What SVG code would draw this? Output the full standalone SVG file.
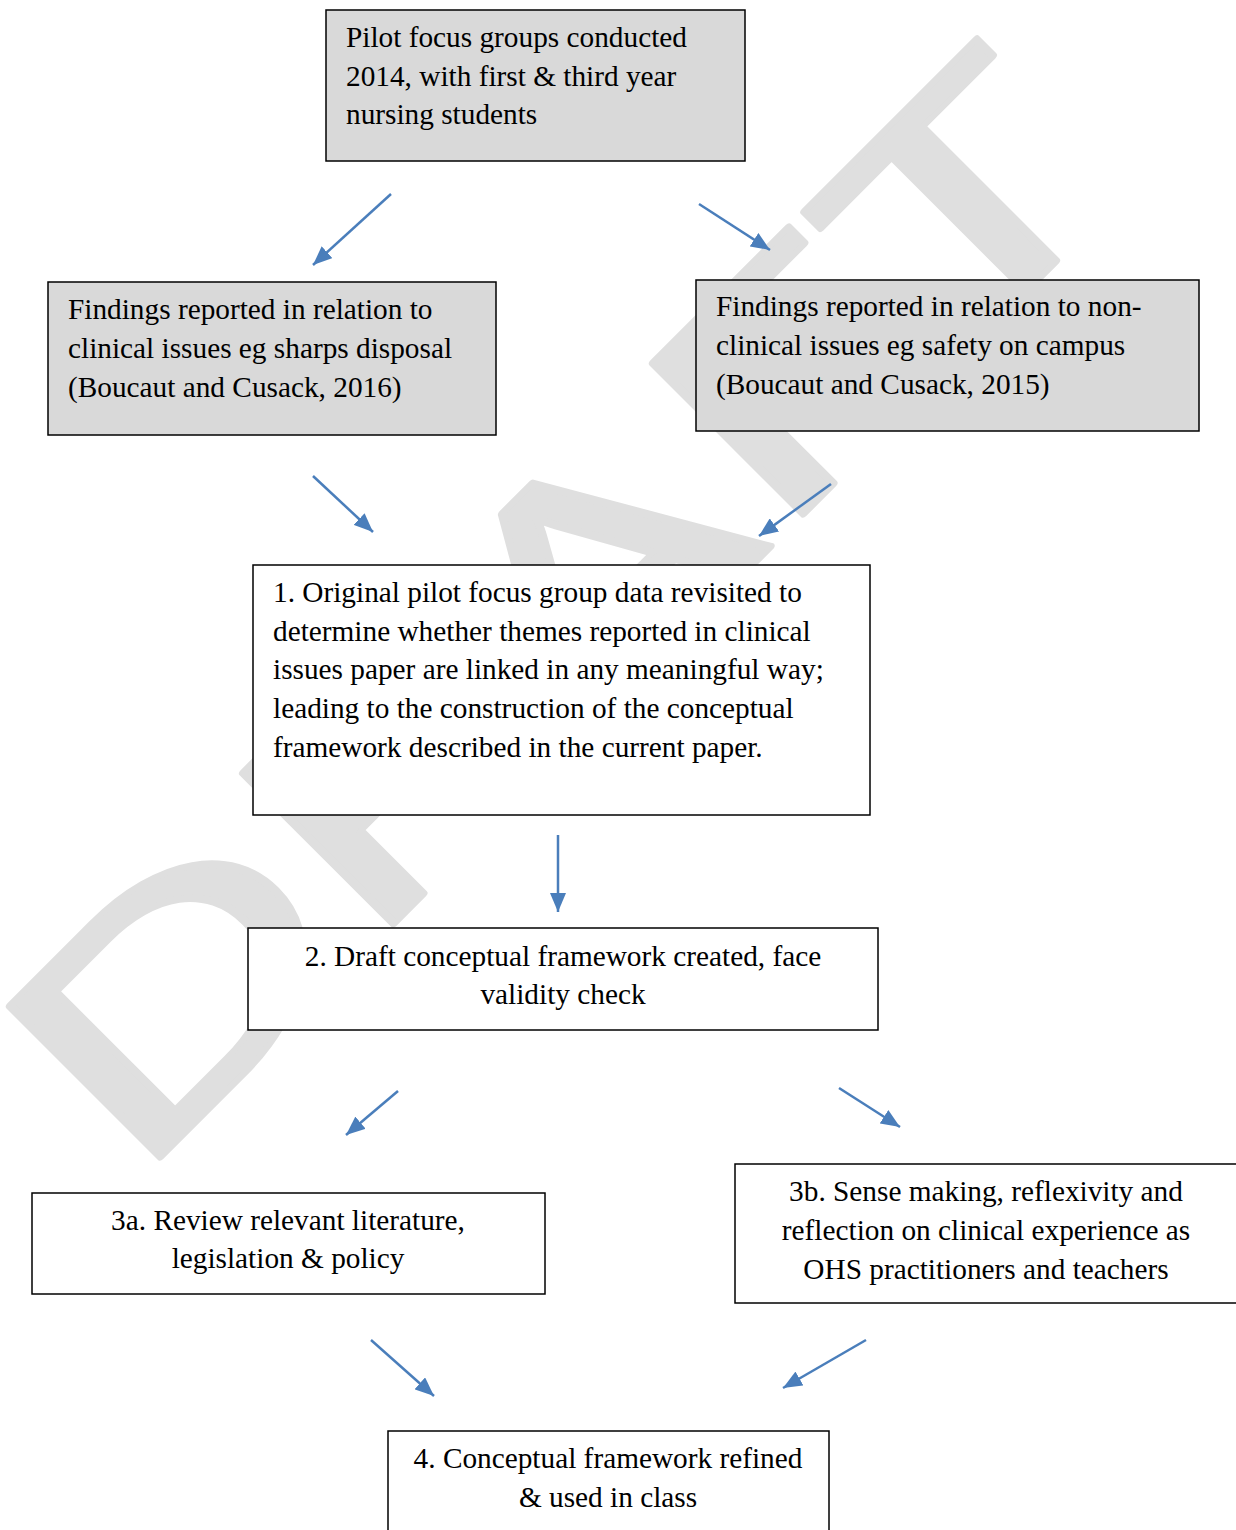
<svg xmlns="http://www.w3.org/2000/svg" width="1236" height="1530" viewBox="0 0 1236 1530">
<style>
.wm{font-family:Lato,"Open Sans",sans-serif;font-size:299px;fill:#dfdfdf;stroke:#dfdfdf;stroke-width:6;stroke-linejoin:round}
.box{stroke:#000;stroke-width:1.5}
.g{fill:#d9d9d9}
.w{fill:#fff}
.t{font-family:"Liberation Serif","Times New Roman",serif;font-size:29.3px;fill:#000}
.c{text-anchor:middle}
.ar{stroke:#4a7ebb;stroke-width:2.5;fill:none;marker-end:url(#ah)}
</style>
<defs>
<marker id="ah" markerUnits="userSpaceOnUse" markerWidth="20" markerHeight="16" refX="19" refY="8" orient="auto">
<path d="M0,0 L19,8 L0,16 z" fill="#4a7ebb"/>
</marker>
</defs>
<rect width="1236" height="1530" fill="#fff"/>
<text class="wm" transform="translate(133,1185) rotate(-45) scale(1.45,1)">DR<tspan dx="6">A</tspan><tspan dx="4">F</tspan><tspan dx="1.5">T</tspan></text>

<g id="n0"><rect class="box g" x="326" y="10" width="419" height="151"/>
<text class="t"><tspan x="346" y="47">Pilot focus groups conducted</tspan><tspan x="346" y="86">2014, with first &amp; third year</tspan><tspan x="346" y="124">nursing students</tspan></text></g>

<g id="n1"><rect class="box g" x="48" y="282" width="448" height="153"/>
<text class="t"><tspan x="68" y="319">Findings reported in relation to</tspan><tspan x="68" y="358">clinical issues eg sharps disposal</tspan><tspan x="68" y="397">(Boucaut and Cusack, 2016)</tspan></text></g>

<g id="n2"><rect class="box g" x="696" y="280" width="503" height="151"/>
<text class="t"><tspan x="716" y="316">Findings reported in relation to non-</tspan><tspan x="716" y="355">clinical issues eg safety on campus</tspan><tspan x="716" y="394">(Boucaut and Cusack, 2015)</tspan></text></g>

<g id="n3"><rect class="box w" x="253" y="565" width="617" height="250"/>
<text class="t"><tspan x="273" y="602">1. Original pilot focus group data revisited to</tspan><tspan x="273" y="641">determine whether themes reported in clinical</tspan><tspan x="273" y="679">issues paper are linked in any meaningful way;</tspan><tspan x="273" y="718">leading to the construction of the conceptual</tspan><tspan x="273" y="757">framework described in the current paper.</tspan></text></g>

<g id="n4"><rect class="box w" x="248" y="928" width="630" height="102"/>
<text class="t c"><tspan x="563" y="966">2. Draft conceptual framework created, face</tspan><tspan x="563" y="1004">validity check</tspan></text></g>

<g id="n5"><rect class="box w" x="32" y="1193" width="513" height="101"/>
<text class="t c"><tspan x="288" y="1230">3a. Review relevant literature,</tspan><tspan x="288" y="1268">legislation &amp; policy</tspan></text></g>

<g id="n6"><rect class="box w" x="735" y="1164" width="510" height="139"/>
<text class="t c"><tspan x="986" y="1201">3b. Sense making, reflexivity and</tspan><tspan x="986" y="1240">reflection on clinical experience as</tspan><tspan x="986" y="1279">OHS practitioners and teachers</tspan></text></g>

<g id="n7"><rect class="box w" x="388" y="1431" width="441" height="110"/>
<text class="t c"><tspan x="608" y="1468">4. Conceptual framework refined</tspan><tspan x="608" y="1507">&amp; used in class</tspan></text></g>

<g id="connectors">
<line class="ar" x1="391" y1="194" x2="313" y2="265"/>
<line class="ar" x1="699" y1="204" x2="770" y2="250"/>
<line class="ar" x1="313" y1="476" x2="373" y2="532"/>
<line class="ar" x1="831" y1="484" x2="759" y2="536"/>
<line class="ar" x1="558" y1="835" x2="558" y2="912"/>
<line class="ar" x1="398" y1="1091" x2="346" y2="1135"/>
<line class="ar" x1="839" y1="1088" x2="900" y2="1127"/>
<line class="ar" x1="371" y1="1340" x2="434" y2="1396"/>
<line class="ar" x1="866" y1="1340" x2="783" y2="1388"/>
</g>
</svg>
